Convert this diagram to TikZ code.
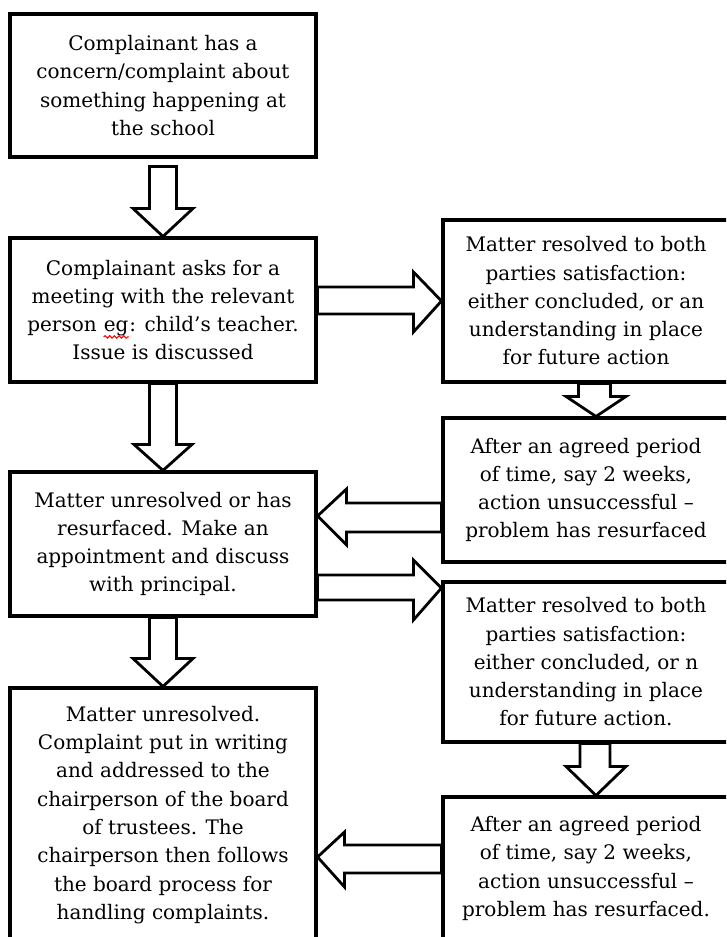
\documentclass[tikz,border=0pt]{standalone}
\usepackage{fontspec}
\setmainfont{DejaVu Serif}
\usetikzlibrary{calc,decorations.pathmorphing}

\newcommand{\spellwave}[1]{\tikz[baseline=(sw.base)]{\node[inner sep=0pt, draw=none,
    minimum width=0pt, minimum height=0pt] (sw) {#1};
  \draw[red, line width=0.8pt, decorate, decoration={snake, amplitude=0.9pt, segment length=3.5pt}]
  ($(sw.base west)+(0pt,-4pt)$) -- ($(sw.base east)+(0pt,-4pt)$);}}

\tikzset{
  stage/.style={draw, line width=2.3pt, align=center, inner sep=0pt,
    font=\fontsize{15}{21.2}\selectfont},
  blockarrow/.style={draw, line width=2.1pt, fill=white, line join=miter},
}

\begin{document}
\begin{tikzpicture}[x=0.75pt,y=-0.75pt]
\useasboundingbox (0,0) rectangle (726,937);
\clip (0,0) rectangle (726,937);

% left column
\node [stage, minimum width=229.5pt, minimum height=107.25pt] (concern) at (163,85.5)
  {Complainant has a\\ concern/complaint about\\ something happening at\\ the school};
\node [stage, minimum width=229.5pt, minimum height=108pt] (meeting) at (163,310)
  {Complainant asks for a\\ meeting with the relevant\\ person \spellwave{eg}: child’s teacher.\\ Issue is discussed};
\node [stage, minimum width=229.5pt, minimum height=108pt] (principal) at (163,544)
  {Matter unresolved or has\\ resurfaced. Make an\\ appointment and discuss\\ with principal.};
\node [stage, minimum width=229.5pt, minimum height=190.5pt] (board) at (163,815)
  {Matter unresolved.\\ Complaint put in writing\\ and addressed to the\\ chairperson of the board\\ of trustees. The\\ chairperson then follows\\ the board process for\\ handling complaints.};

% right column
\node [stage, minimum width=214.5pt, minimum height=121.5pt] (resolvedA) at (586,301)
  {Matter resolved to both\\ parties satisfaction:\\ either concluded, or an\\ understanding in place\\ for future action};
\node [stage, minimum width=214.5pt, minimum height=108pt] (resurfacedA) at (586,490)
  {After an agreed period\\ of time, say 2 weeks,\\ action unsuccessful –\\ problem has resurfaced};
\node [stage, minimum width=214.5pt, minimum height=120pt] (resolvedB) at (586,662)
  {Matter resolved to both\\ parties satisfaction:\\ either concluded, or n\\ understanding in place\\ for future action.};
\node [stage, minimum width=214.5pt, minimum height=107.25pt] (resurfacedB) at (586,868.5)
  {After an agreed period\\ of time, say 2 weeks,\\ action unsuccessful –\\ problem has resurfaced.};

% down arrows
\draw [blockarrow] ($(concern.south)+(-13.5,8)$) -- ($(concern.south)+(13.5,8)$)
  -- ($(meeting.north)+(13.5,-28)$) -- ($(meeting.north)+(30,-28)$) -- (meeting.north)
  -- ($(meeting.north)+(-30,-28)$) -- ($(meeting.north)+(-13.5,-28)$) -- cycle;
\draw [blockarrow] ($(meeting.south)+(-13.5,0)$) -- ($(meeting.south)+(13.5,0)$)
  -- ($(principal.north)+(13.5,-26)$) -- ($(principal.north)+(29,-26)$) -- (principal.north)
  -- ($(principal.north)+(-29,-26)$) -- ($(principal.north)+(-13.5,-26)$) -- cycle;
\draw [blockarrow] ($(principal.south)+(-13.5,0)$) -- ($(principal.south)+(13.5,0)$)
  -- ($(board.north)+(13.5,-28)$) -- ($(board.north)+(30,-28)$) -- (board.north)
  -- ($(board.north)+(-30,-28)$) -- ($(board.north)+(-13.5,-28)$) -- cycle;
\draw [blockarrow] ($(resolvedA.south)+(-7.5,0)$) -- ($(resolvedA.south)+(24.5,0)$)
  -- ($(resurfacedA.north)+(24.5,-20)$) -- ($(resurfacedA.north)+(40,-20)$) -- ($(resurfacedA.north)+(10,0)$)
  -- ($(resurfacedA.north)+(-20,-20)$) -- ($(resurfacedA.north)+(-7.5,-20)$) -- cycle;
\draw [blockarrow] ($(resolvedB.south)+(-6,0)$) -- ($(resolvedB.south)+(24,0)$)
  -- ($(resurfacedB.north)+(24,-29)$) -- ($(resurfacedB.north)+(40,-29)$) -- ($(resurfacedB.north)+(10,0)$)
  -- ($(resurfacedB.north)+(-20,-29)$) -- ($(resurfacedB.north)+(-6,-29)$) -- cycle;

% side arrows
\draw [blockarrow] ($(meeting.east)+(0,-23)$) -- ($(resolvedA.west)+(-28,-14)$)
  -- ($(resolvedA.west)+(-28,-29)$) -- (resolvedA.west) -- ($(resolvedA.west)+(-28,31)$)
  -- ($(resolvedA.west)+(-28,13)$) -- ($(meeting.east)+(0,4)$) -- cycle;
\draw [blockarrow] ($(resurfacedA.west)+(0,13)$) -- ($(principal.east)+(29,-41)$)
  -- ($(principal.east)+(29,-55)$) -- ($(principal.east)+(0,-28)$) -- ($(principal.east)+(29,1)$)
  -- ($(principal.east)+(29,-12)$) -- ($(resurfacedA.west)+(0,42)$) -- cycle;
\draw [blockarrow] ($(principal.east)+(0,31)$) -- ($(resolvedB.west)+(-28,-87)$)
  -- ($(resolvedB.west)+(-28,-102)$) -- ($(resolvedB.west)+(0,-74)$) -- ($(resolvedB.west)+(-28,-42)$)
  -- ($(resolvedB.west)+(-28,-62)$) -- ($(principal.east)+(0,56)$) -- cycle;
\draw [blockarrow] ($(resurfacedB.west)+(0,-23.5)$) -- ($(board.east)+(27,30)$)
  -- ($(board.east)+(27,17)$) -- ($(board.east)+(0,42)$) -- ($(board.east)+(27,72)$)
  -- ($(board.east)+(27,58)$) -- ($(resurfacedB.west)+(0,4.5)$) -- cycle;
\end{tikzpicture}
\end{document}
